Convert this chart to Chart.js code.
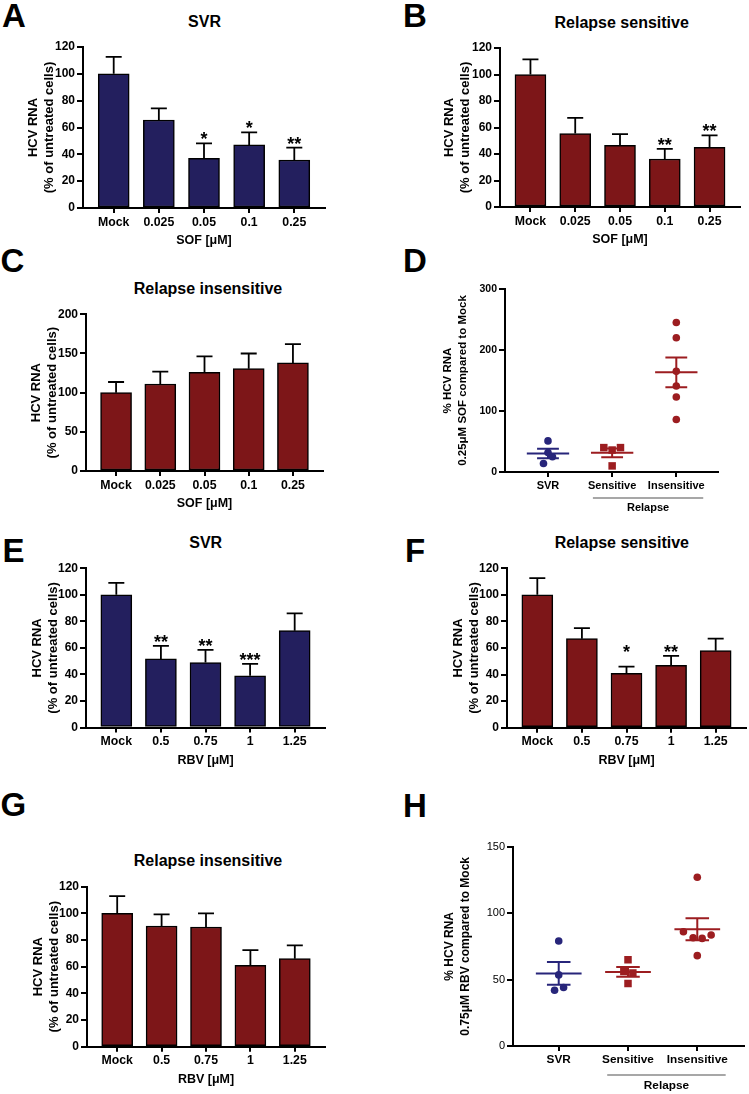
<!DOCTYPE html>
<html>
<head>
<meta charset="utf-8">
<script src="https://cdn.jsdelivr.net/npm/chart.js@4.4.1/dist/chart.umd.min.js"></script>
<style>
  body { margin: 0; background: #fff; }
  #fig { position: relative; width: 749px; height: 1094px; overflow: hidden;
         font-family: "Liberation Sans", Arial, sans-serif; font-weight: bold; color: #000; }
  .letter { position: absolute; font-size: 33px; line-height: 1; }
  .ttl { position: absolute; font-size: 16px; line-height: 1; white-space: nowrap; transform: translate(-50%, -50%); }
  canvas { position: absolute; }
</style>
</head>
<body>
<div id="fig">
  <div class="letter" style="left:2px;top:-1px">A</div>
  <div class="letter" style="left:403px;top:-1px">B</div>
  <div class="letter" style="left:0.5px;top:243.5px">C</div>
  <div class="letter" style="left:403px;top:244px">D</div>
  <div class="letter" style="left:2.5px;top:534px">E</div>
  <div class="letter" style="left:405px;top:534px">F</div>
  <div class="letter" style="left:0.5px;top:788px">G</div>
  <div class="letter" style="left:403px;top:789px">H</div>
  <div class="ttl" style="left:204.5px;top:22px">SVR</div>
  <div class="ttl" style="left:621.7px;top:23px">Relapse sensitive</div>
  <div class="ttl" style="left:208px;top:289px">Relapse insensitive</div>
  <div class="ttl" style="left:205.7px;top:543px">SVR</div>
  <div class="ttl" style="left:621.8px;top:543px">Relapse sensitive</div>
  <div class="ttl" style="left:208px;top:861px">Relapse insensitive</div>
</div>
<script>
// categories
const sofDoses = ['Mock', '0.025', '0.05', '0.1', '0.25'];
const rbvDoses = ['Mock', '0.5', '0.75', '1', '1.25'];
const groups = ['SVR', 'Sensitive', 'Insensitive'];

// A - SOF, SVR
const sofSvr = [100, 65.6, 37, 47, 35.8];
const sofSvrErr = [12.7, 8.7, 11.2, 9.4, 9.2];
const sofSvrStars = ['', '', '*', '*', '**'];
// B - SOF, relapse sensitive
const sofSens = [100, 55.5, 46.5, 36.2, 45];
const sofSensErr = [11.4, 11.7, 8.5, 7.6, 9];
const sofSensStars = ['', '', '', '**', '**'];
// C - SOF, relapse insensitive
const sofIns = [100, 111, 126, 130.6, 138];
const sofInsErr = [13.6, 15.8, 20.4, 19.4, 24];
// D - 0.25uM SOF per patient
const sofSvrPts = [51, 32, 25, 14];
const sofSensPts = [40, 36, 40, 10];
const sofInsPts = [245, 220, 165, 141, 123, 86];
const sofSvrJitter = [0, 0, 0.07, -0.07];
const sofSensJitter = [-0.13, 0, 0.13, 0];
const sofInsJitter = [0, 0, 0, 0, 0, 0];
// E - RBV, SVR
const rbvSvr = [100, 51.7, 49, 39, 73];
const rbvSvrErr = [9, 9.8, 9.5, 9, 13];
const rbvSvrStars = ['', '**', '**', '***', ''];
// F - RBV, relapse sensitive
const rbvSens = [100, 67, 41, 47, 58];
const rbvSensErr = [12.6, 8, 5, 7, 9];
const rbvSensStars = ['', '', '*', '**', ''];
// G - RBV, relapse insensitive
const rbvIns = [100, 90.5, 89.8, 61, 66];
const rbvInsErr = [13, 8.8, 10.2, 11.5, 10];
// H - 0.75uM RBV per patient
const rbvSvrPts = [79, 53.5, 44, 42];
const rbvSensPts = [65, 56, 55, 47];
const rbvInsPts = [127, 86, 81.5, 81, 83.5, 68];
const rbvSvrJitter = [0, 0, 0.07, -0.06];
const rbvSensJitter = [0, -0.06, 0.07, 0];
const rbvInsJitter = [0, -0.2, -0.06, 0.07, 0.2, 0];

const FONT = '"Liberation Sans", Arial, sans-serif';
const NAVY = '#231f5e';
const RED = '#7d1618';
const DOT_NAVY = '#27257a';
const DOT_RED = '#9c1d20';

Chart.defaults.font.family = FONT;
Chart.defaults.color = '#000';

const fig = document.getElementById('fig');

function makeCanvas(rect) {
  const c = document.createElement('canvas');
  c.width = rect.w;
  c.height = rect.h;
  c.style.left = rect.x + 'px';
  c.style.top = rect.y + 'px';
  fig.appendChild(c);
  return c;
}

// paddings so that the plot area lands where it sits in the figure
function frame(rect, plot) {
  return {
    padding: { left: 0, top: plot.top - rect.y, right: rect.x + rect.w - plot.right, bottom: 0 },
    yW: plot.left - rect.x,
    xH: rect.y + rect.h - plot.bottom
  };
}

function makeScales(p, f) {
  const cats = p.cats;
  const yLh = p.yTitleSize * p.yTitleLh;
  const xLh = 12.5 * 1.2;
  return {
    x: {
      type: 'linear',
      offset: false,
      min: p.xMin,
      max: cats.length - 1 + p.xMax,
      afterBuildTicks: s => { s.ticks = cats.map((c, i) => ({ value: i })); },
      afterFit: s => { s.height = f.xH; },
      grid: { offset: false, drawOnChartArea: false, tickLength: 5, color: '#000', lineWidth: 2 },
      border: { color: '#000', width: 2 },
      ticks: {
        callback: v => cats[v],
        font: { size: p.xFont, weight: 'bold' },
        padding: 2, maxRotation: 0, autoSkip: false
      },
      title: {
        display: !!p.xTitle,
        text: p.xTitle || '',
        font: { size: 12.5, weight: 'bold', lineHeight: 1.2 },
        padding: { top: 0, bottom: f.xH - 33 - xLh / 2 }
      }
    },
    y: {
      min: 0,
      max: p.yMax,
      afterFit: s => { s.width = f.yW; },
      grid: { drawOnChartArea: false, tickLength: 6, color: '#000', lineWidth: 2 },
      border: { color: '#000', width: 2 },
      ticks: { stepSize: p.yStep, font: { size: p.yFont, weight: p.yWeight || 'bold' }, padding: 2 },
      title: {
        display: true,
        text: p.yTitle,
        font: { size: p.yTitleSize, weight: 'bold', lineHeight: p.yTitleLh },
        padding: { top: f.yW - p.yTitleGap - yLh / 2, bottom: 0 }
      }
    }
  };
}

// error bars (upper whisker) and significance stars
const errorBars = {
  id: 'errorBars',
  afterDatasetsDraw(chart, args, opts) {
    const ds = chart.data.datasets[0];
    const meta = chart.getDatasetMeta(0);
    const y = chart.scales.y;
    const ctx = chart.ctx;
    const tops = meta.data.map((bar, i) => y.getPixelForValue(ds.data[i].y + opts.errs[i]));
    ctx.save();
    ctx.strokeStyle = '#000';
    ctx.lineWidth = 1.8;
    meta.data.forEach((bar, i) => {
      ctx.beginPath();
      ctx.moveTo(bar.x, bar.y);
      ctx.lineTo(bar.x, tops[i]);
      ctx.moveTo(bar.x - 8, tops[i]);
      ctx.lineTo(bar.x + 8, tops[i]);
      ctx.stroke();
    });
    if (opts.stars) {
      const starred = tops.filter((t, i) => opts.stars[i]);
      const rowTop = Math.min(...starred);
      ctx.fillStyle = '#000';
      ctx.font = 'bold 18px ' + FONT;
      ctx.textAlign = 'center';
      ctx.textBaseline = 'alphabetic';
      meta.data.forEach((bar, i) => {
        if (!opts.stars[i]) return;
        const t = opts.alignStars ? rowTop : tops[i];
        ctx.fillText(opts.stars[i], bar.x, t + 2);
      });
    }
    ctx.restore();
  }
};

// mean +/- SEM lines over the dot plots
const meanSem = {
  id: 'meanSem',
  afterDatasetsDraw(chart, args, opts) {
    const xs = chart.scales.x, ys = chart.scales.y;
    const ctx = chart.ctx;
    ctx.save();
    ctx.lineWidth = 2;
    chart.data.datasets.forEach((ds, gi) => {
      const v = ds.data.map(d => d.y);
      const n = v.length;
      const mean = v.reduce((a, b) => a + b, 0) / n;
      const sd = Math.sqrt(v.reduce((a, b) => a + (b - mean) ** 2, 0) / (n - 1));
      const sem = sd / Math.sqrt(n);
      const line = (x0, x1, val) => {
        ctx.moveTo(xs.getPixelForValue(gi + x0), ys.getPixelForValue(val));
        ctx.lineTo(xs.getPixelForValue(gi + x1), ys.getPixelForValue(val));
      };
      ctx.strokeStyle = opts.colors[gi];
      ctx.beginPath();
      line(-0.33, 0.33, mean);
      line(-0.17, 0.17, mean + sem);
      line(-0.17, 0.17, mean - sem);
      ctx.moveTo(xs.getPixelForValue(gi), ys.getPixelForValue(mean + sem));
      ctx.lineTo(xs.getPixelForValue(gi), ys.getPixelForValue(mean - sem));
      ctx.stroke();
    });
    ctx.restore();
  }
};

// "Relapse" bracket under the two relapse groups
const relapseBracket = {
  id: 'relapseBracket',
  afterDraw(chart, args, opts) {
    const xs = chart.scales.x;
    const base = chart.chartArea.bottom;
    const x0 = xs.getPixelForValue(opts.from), x1 = xs.getPixelForValue(opts.to);
    const ctx = chart.ctx;
    ctx.save();
    ctx.strokeStyle = '#8a8a8a';
    ctx.lineWidth = 1.5;
    ctx.beginPath();
    ctx.moveTo(x0, base + opts.lineGap);
    ctx.lineTo(x1, base + opts.lineGap);
    ctx.stroke();
    ctx.fillStyle = '#000';
    ctx.font = 'bold ' + opts.size + 'px ' + FONT;
    ctx.textAlign = 'center';
    ctx.textBaseline = 'middle';
    ctx.fillText('Relapse', (x0 + x1) / 2, base + opts.textGap);
    ctx.restore();
  }
};

function barPanel(p) {
  const f = frame(p.rect, p.plot);
  new Chart(makeCanvas(p.rect), {
    type: 'bar',
    data: {
      datasets: [{
        data: p.values.map((v, i) => ({ x: i, y: v })),
        backgroundColor: p.color,
        borderColor: '#000',
        borderWidth: 1.5,
        borderSkipped: false,
        barThickness: 31
      }]
    },
    options: {
      responsive: false,
      animation: false,
      layout: { padding: f.padding },
      plugins: {
        legend: { display: false },
        tooltip: { enabled: false },
        errorBars: { errs: p.errs, stars: p.stars, alignStars: p.alignStars }
      },
      scales: makeScales(p, f)
    },
    plugins: [errorBars]
  });
}

function dotPanel(p) {
  const f = frame(p.rect, p.plot);
  const shapes = ['circle', 'rect', 'circle'];
  const colors = [DOT_NAVY, DOT_RED, DOT_RED];
  const datasets = p.pts.map((pts, gi) => ({
    data: pts.map((v, j) => ({ x: gi + p.jitter[gi][j], y: v })),
    backgroundColor: colors[gi],
    borderWidth: 0,
    pointStyle: shapes[gi],
    pointRadius: shapes[gi] === 'rect' ? 5.3 : 3.8
  }));
  new Chart(makeCanvas(p.rect), {
    type: 'scatter',
    data: { datasets },
    options: {
      responsive: false,
      animation: false,
      layout: { padding: f.padding },
      plugins: {
        legend: { display: false },
        tooltip: { enabled: false },
        meanSem: { colors },
        relapseBracket: p.relapse
      },
      scales: makeScales(p, f)
    },
    plugins: [meanSem, relapseBracket]
  });
}

const barTitle = ['HCV RNA', '(% of untreated cells)'];
const barCommon = { xMin: -0.68, xMax: 0.68, xFont: 12.3, yFont: 12, yTitle: barTitle, yTitleSize: 13, yTitleLh: 1.28 };

barPanel(Object.assign({}, barCommon, {
  rect: { x: 0, y: 0, w: 340, h: 252 }, plot: { left: 83, top: 47, right: 325, bottom: 208 },
  cats: sofDoses, values: sofSvr, errs: sofSvrErr, stars: sofSvrStars, color: NAVY,
  yMax: 120, yStep: 20, yTitleGap: 50, xTitle: 'SOF [μM]'
}));
barPanel(Object.assign({}, barCommon, {
  rect: { x: 417, y: 0, w: 330, h: 252 }, plot: { left: 500, top: 48, right: 740, bottom: 207 },
  cats: sofDoses, values: sofSens, errs: sofSensErr, stars: sofSensStars, color: RED,
  yMax: 120, yStep: 20, yTitleGap: 51, xTitle: 'SOF [μM]'
}));
barPanel(Object.assign({}, barCommon, {
  rect: { x: 3, y: 262, w: 337, h: 250 }, plot: { left: 86, top: 314.3, right: 323, bottom: 471 },
  cats: sofDoses, values: sofIns, errs: sofInsErr, stars: null, color: RED,
  yMax: 200, yStep: 50, yTitleGap: 50, xTitle: 'SOF [μM]'
}));
dotPanel({
  rect: { x: 422, y: 262, w: 320, h: 256 }, plot: { left: 505, top: 289, right: 718, bottom: 472 },
  cats: groups, pts: [sofSvrPts, sofSensPts, sofInsPts], jitter: [sofSvrJitter, sofSensJitter, sofInsJitter],
  xMin: -0.67, xMax: 0.65, xFont: 11, yFont: 10.5, yMax: 300, yStep: 100,
  yTitle: ['% HCV RNA', '0.25μM SOF compared to Mock'], yTitleSize: 11.5, yTitleLh: 1.3, yTitleGap: 57,
  relapse: { from: 0.7, to: 2.42, lineGap: 26, textGap: 36, size: 11 }
});
barPanel(Object.assign({}, barCommon, {
  rect: { x: 3, y: 500, w: 337, h: 272 }, plot: { left: 86, top: 568.3, right: 325, bottom: 727.5 },
  cats: rbvDoses, values: rbvSvr, errs: rbvSvrErr, stars: rbvSvrStars, color: NAVY,
  yMax: 120, yStep: 20, yTitleGap: 49, xTitle: 'RBV [μM]'
}));
barPanel(Object.assign({}, barCommon, {
  rect: { x: 424, y: 500, w: 325, h: 272 }, plot: { left: 507, top: 568.3, right: 746, bottom: 727.7 },
  cats: rbvDoses, values: rbvSens, errs: rbvSensErr, stars: rbvSensStars, alignStars: true, color: RED,
  yMax: 120, yStep: 20, yTitleGap: 49, xTitle: 'RBV [μM]'
}));
barPanel(Object.assign({}, barCommon, {
  rect: { x: 4, y: 820, w: 336, h: 272 }, plot: { left: 87, top: 886.7, right: 325, bottom: 1046.7 },
  cats: rbvDoses, values: rbvIns, errs: rbvInsErr, stars: null, color: RED,
  yMax: 120, yStep: 20, yTitleGap: 49, xTitle: 'RBV [μM]'
}));
dotPanel({
  rect: { x: 430, y: 820, w: 319, h: 274 }, plot: { left: 513, top: 846.7, right: 746, bottom: 1046 },
  cats: groups, pts: [rbvSvrPts, rbvSensPts, rbvInsPts], jitter: [rbvSvrJitter, rbvSensJitter, rbvInsJitter],
  xMin: -0.66, xMax: 0.67, xFont: 11.8, yFont: 11, yWeight: 'normal', yMax: 150, yStep: 50,
  yTitle: ['% HCV RNA', '0.75μM RBV compared to Mock'], yTitleSize: 12, yTitleLh: 1.33, yTitleGap: 63,
  relapse: { from: 0.7, to: 2.41, lineGap: 29, textGap: 40, size: 11.8 }
});
</script>
</body>
</html>
